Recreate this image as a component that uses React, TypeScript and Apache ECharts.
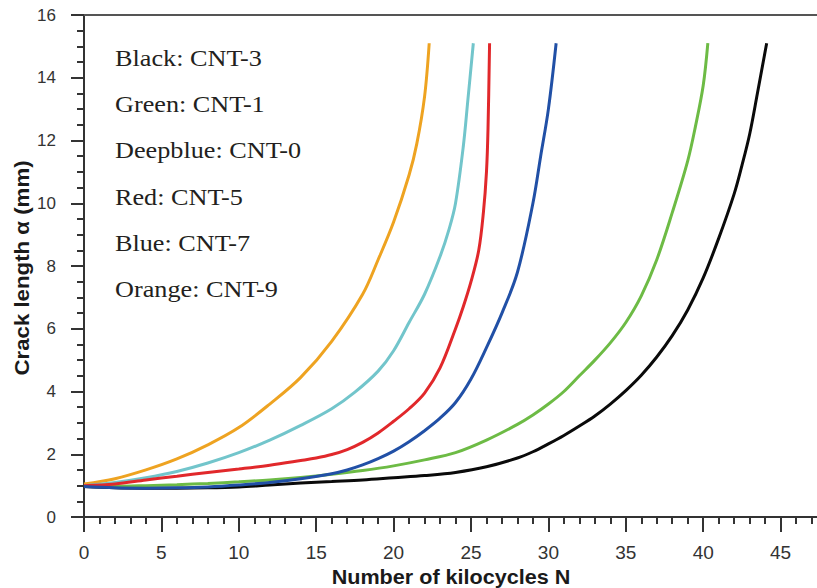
import React, { useEffect, useRef } from "react";
import * as echarts from "echarts";

// Crack length a (mm) vs number of kilocycles N, one pair of arrays per material
const blackN = [0, 2, 4, 6, 8, 10, 12, 14, 16, 18, 20, 22, 24, 26, 28, 29, 30, 31, 32, 33, 34, 35, 36, 37, 38, 39, 40, 41, 42, 42.5, 43, 43.5, 44.1];
const blackA = [0.97, 0.93, 0.92, 0.92, 0.93, 0.96, 1.02, 1.08, 1.13, 1.18, 1.25, 1.32, 1.42, 1.6, 1.88, 2.08, 2.33, 2.6, 2.9, 3.22, 3.6, 4.03, 4.52, 5.1, 5.78, 6.6, 7.62, 8.88, 10.3, 11.2, 12.2, 13.5, 15.1];

const greenN = [0, 2, 4, 6, 8, 10, 12, 14, 16, 18, 20, 22, 24, 26, 28, 29, 30, 31, 32, 33, 34, 35, 36, 37, 38, 39, 39.5, 40, 40.3];
const greenA = [1.0, 0.98, 1.0, 1.03, 1.07, 1.12, 1.18, 1.26, 1.36, 1.48, 1.63, 1.82, 2.05, 2.45, 2.95, 3.25, 3.6, 4.0, 4.5, 5.0, 5.55, 6.2, 7.05, 8.2, 9.7, 11.35, 12.45, 13.75, 15.1];

const deepblueN = [0, 2, 4, 6, 8, 10, 12, 14, 16, 17, 18, 19, 20, 21, 22, 23, 24, 25, 26, 27, 28, 29, 29.5, 30, 30.5];
const deepblueA = [0.97, 0.93, 0.92, 0.93, 0.96, 1.02, 1.1, 1.22, 1.38, 1.5, 1.66, 1.86, 2.1, 2.4, 2.75, 3.15, 3.65, 4.4, 5.4, 6.5, 7.8, 10.0, 11.5, 13.0, 15.1];

const redN = [0, 2, 4, 6, 8, 10, 12, 14, 15, 16, 17, 18, 19, 20, 21, 22, 23, 24, 24.5, 25, 25.5, 25.8, 26, 26.1, 26.2];
const redA = [1.0, 1.05, 1.18, 1.3, 1.42, 1.53, 1.65, 1.8, 1.88, 1.99, 2.15, 2.38, 2.68, 3.05, 3.45, 3.95, 4.75, 6.0, 6.7, 7.5, 8.5, 9.7, 11.0, 12.4, 15.1];

const cyanN = [0, 2, 4, 6, 8, 10, 12, 14, 16, 17.5, 19, 20, 21, 22, 23, 23.6, 24, 24.5, 24.8, 25.15];
const cyanA = [1.0, 1.1, 1.25, 1.45, 1.72, 2.05, 2.45, 2.92, 3.45, 3.98, 4.65, 5.3, 6.2, 7.1, 8.3, 9.2, 10.0, 11.8, 13.3, 15.1];

const orangeN = [0, 2, 4, 6, 8, 10, 12, 14, 16, 18, 19, 20, 21, 21.5, 22, 22.3];
const orangeA = [1.05, 1.22, 1.5, 1.85, 2.3, 2.85, 3.6, 4.45, 5.6, 7.1, 8.2, 9.4, 10.9, 11.9, 13.4, 15.1];

const legendLines = [
  "Black: CNT-3",
  "Green: CNT-1",
  "Deepblue: CNT-0",
  "Red: CNT-5",
  "Blue: CNT-7",
  "Orange: CNT-9",
];
const xTitle = "Number of kilocycles N";
const yTitle = "Crack length α (mm)";

const seriesDefs = [
  { name: "CNT-3", n: blackN, a: blackA, color: "#0a0a0a" },
  { name: "CNT-1", n: greenN, a: greenA, color: "#6dbb45" },
  { name: "CNT-9", n: orangeN, a: orangeA, color: "#eea321" },
  { name: "CNT-7", n: cyanN, a: cyanA, color: "#72c5cb" },
  { name: "CNT-5", n: redN, a: redA, color: "#e1282b" },
  { name: "CNT-0", n: deepblueN, a: deepblueA, color: "#2150a6" },
];

const FONT = "'Liberation Sans', Arial, Helvetica, sans-serif";
const SERIF = "'Liberation Serif', 'Times New Roman', serif";

export default function App() {
  const ref = useRef<HTMLDivElement>(null);
  useEffect(() => {
    if (!ref.current) return;
    const chart = echarts.init(ref.current, undefined, { renderer: "svg" });
    const option: any = {
      animation: false,
      backgroundColor: "#ffffff",
      grid: { left: 84, width: 774, top: 15, bottom: 71, containLabel: false, outerBoundsMode: "none" },
      xAxis: [
        {
          type: "value",
          min: 0,
          max: 50,
          interval: 5,
          position: "bottom",
          axisLine: { show: true, lineStyle: { color: "#333", width: 2 } },
          axisTick: { show: true, length: 15, lineStyle: { color: "#333", width: 2 } },
          minorTick: { show: true, splitNumber: 5, length: 7, lineStyle: { color: "#333", width: 2 } },
          axisLabel: { fontSize: 19, color: "#333", fontFamily: FONT, margin: 26, showMaxLabel: false },
          splitLine: { show: false },
        },
        {
          type: "value",
          min: 0,
          max: 50,
          position: "top",
          axisLine: { show: true, lineStyle: { color: "#555", width: 2 } },
          axisTick: { show: false },
          axisLabel: { show: false },
          splitLine: { show: false },
        },
      ],
      yAxis: {
        type: "value",
        min: 0,
        max: 16,
        interval: 2,
        axisLine: { show: true, lineStyle: { color: "#333", width: 2 } },
        axisTick: { show: true, length: 13, lineStyle: { color: "#333", width: 2 } },
        minorTick: { show: true, splitNumber: 4, length: 7, lineStyle: { color: "#333", width: 2 } },
        axisLabel: { fontSize: 17, color: "#333", fontFamily: FONT, margin: 28 },
        splitLine: { show: false },
      },
      series: seriesDefs.map((s) => ({
        name: s.name,
        type: "line",
        xAxisIndex: 0,
        showSymbol: false,
        smooth: 0.35,
        lineStyle: { color: s.color, width: 3 },
        itemStyle: { color: s.color },
        data: s.n.map((v, i) => [v, s.a[i]]),
      })),
      graphic: [
        ...legendLines.map((t, i) => ({
          type: "text",
          x: 115,
          y: 58 + 46.2 * i,
          scaleX: 1.14,
          style: {
            text: t,
            fontSize: 23,
            fontFamily: SERIF,
            fill: "#231f20",
            textVerticalAlign: "middle",
            textAlign: "left",
          },
        })),
        {
          type: "text",
          x: 451,
          y: 577,
          scaleX: 1.08,
          style: {
            text: xTitle,
            fontSize: 20,
            fontWeight: "bold",
            fontFamily: FONT,
            fill: "#1a1a1a",
            textAlign: "center",
            textVerticalAlign: "middle",
          },
        },
        {
          type: "text",
          x: 22,
          y: 268,
          rotation: Math.PI / 2,
          scaleX: 1.06,
          style: {
            text: yTitle,
            fontSize: 21,
            fontWeight: "bold",
            fontFamily: FONT,
            fill: "#1a1a1a",
            textAlign: "center",
            textVerticalAlign: "middle",
          },
        },
      ],
    };
    chart.setOption(option);
    return () => chart.dispose();
  }, []);
  return (
    <div
      ref={ref}
      style={{ position: "absolute", left: 0, top: 0, width: 817, height: 588 }}
    />
  );
}
